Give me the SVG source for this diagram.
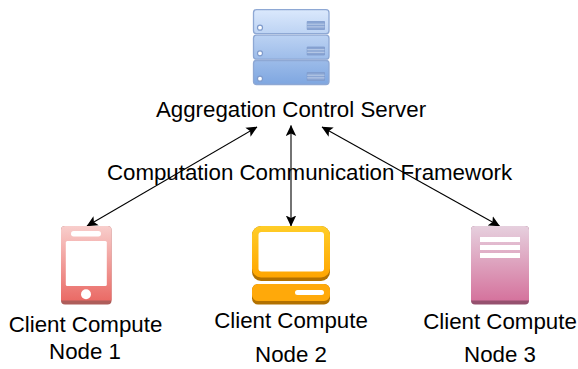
<svg xmlns="http://www.w3.org/2000/svg" width="578" height="369" viewBox="0 0 578 369">
<style>
text{font-family:"Liberation Sans",Arial,sans-serif;font-size:22.3px;fill:#000;text-anchor:middle}
.ln{fill:none;stroke:#000;stroke-width:1.1;marker-start:url(#a);marker-end:url(#a)}
.u{fill:url(#sv);stroke:#8ea8d4;stroke-width:1.3}
.v{fill:#fff;stroke:#7f9bcc;stroke-width:1.2}
.g{fill:#8aa5d3;stroke:#7f9bcc;stroke-width:.8}
.w{fill:#fff}
</style>
<defs>
<marker id="a" viewBox="0 0 11 11" refX="10.5" refY="5.500" markerWidth="11" markerHeight="11" markerUnits="userSpaceOnUse" orient="auto-start-reverse"><path d="M0 .3L11 5.500L0 10.700L2.500 5.500Z" fill="#000"/></marker>
<linearGradient id="sv" x1="0" y1="10" x2="0" y2="85" gradientUnits="userSpaceOnUse"><stop offset="0" stop-color="#dae8fc"/><stop offset="1" stop-color="#7ea6e0"/></linearGradient>
<linearGradient id="ph" x1="0" y1="0" x2="0" y2="1"><stop offset="0" stop-color="#f8cecc"/><stop offset="1" stop-color="#ea6b66"/></linearGradient>
<linearGradient id="pc" x1="0" y1="0" x2="0" y2="1"><stop offset="0" stop-color="#ffcd28"/><stop offset="1" stop-color="#ffa500"/></linearGradient>
<linearGradient id="dc" x1="0" y1="0" x2="0" y2="1"><stop offset="0" stop-color="#e6d0de"/><stop offset="1" stop-color="#d5739d"/></linearGradient>
</defs>
<g id="connectors">
<path class="ln" d="M87 226L257 127"/>
<path class="ln" d="M291 226V125.500"/>
<path class="ln" d="M499.500 226L322 127"/>
</g>
<g id="server">
<rect class="u" x="253.500" y="9.700" width="75.500" height="24" rx="3"/>
<rect class="u" x="253.500" y="35.200" width="75.500" height="24" rx="3"/>
<rect class="u" x="253.500" y="60.500" width="75.500" height="24" rx="3"/>
<circle class="v" cx="260" cy="27.700" r="2.500"/><circle class="v" cx="260" cy="53.300" r="2.500"/><circle class="v" cx="260" cy="78.700" r="2.500"/>
<path class="g" d="M307.200 21.500h17.300v8h-17.300zM307.200 47h17.300v8h-17.300zM307.200 72.500h17.300v8h-17.300z"/>
<path d="M307.200 24.200h17.300M307.200 26.900h17.300M307.200 49.700h17.300M307.200 52.300h17.300M307.200 75.200h17.300M307.200 77.900h17.300" stroke="#c3d3ec" stroke-width=".9"/>
<text x="291" y="117">Aggregation Control Server</text>
</g>
<g id="framework"><text x="309.500" y="180">Computation Communication Framework</text></g>
<g id="node1">
<rect x="61" y="226" width="50.500" height="78.500" rx="4" fill="#ae5d5a"/>
<path d="M65 226h42.500a4 4 0 0 1 4 4v70.500h-50.500v-70.500a4 4 0 0 1 4-4z" fill="url(#ph)"/>
<rect class="w" x="71" y="231" width="30" height="5.500" rx="2.700"/>
<rect class="w" x="65.800" y="241" width="41" height="45" rx="1.500"/>
<circle class="w" cx="86" cy="294.300" r="5"/>
<text x="85.500" y="332">Client Compute</text><text x="85" y="359">Node 1</text>
</g>
<g id="node2">
<rect x="252" y="226" width="78" height="55" rx="9" fill="#b27100"/>
<rect x="252" y="226" width="78" height="51.500" rx="9" fill="url(#pc)"/>
<rect class="w" x="258.500" y="232" width="65.500" height="39.500" rx="3"/>
<rect x="252" y="284" width="78" height="20.500" rx="6" fill="#b27100"/>
<rect x="252" y="284" width="78" height="17" rx="6" fill="#ffa90a"/>
<rect class="w" x="295" y="290" width="29" height="5" rx="2.500"/>
<text x="291" y="328">Client Compute</text><text x="291" y="362">Node 2</text>
</g>
<g id="node3">
<rect x="471" y="226" width="58" height="78.500" rx="4" fill="#95506e"/>
<path d="M475 226h50a4 4 0 0 1 4 4v70.500h-58v-70.500a4 4 0 0 1 4-4z" fill="url(#dc)"/>
<path class="w" d="M480 237h40v5h-40zM480 245h40v5h-40zM480 253h40v5h-40z"/>
<text x="500" y="329">Client Compute</text><text x="500" y="362">Node 3</text>
</g>
</svg>
